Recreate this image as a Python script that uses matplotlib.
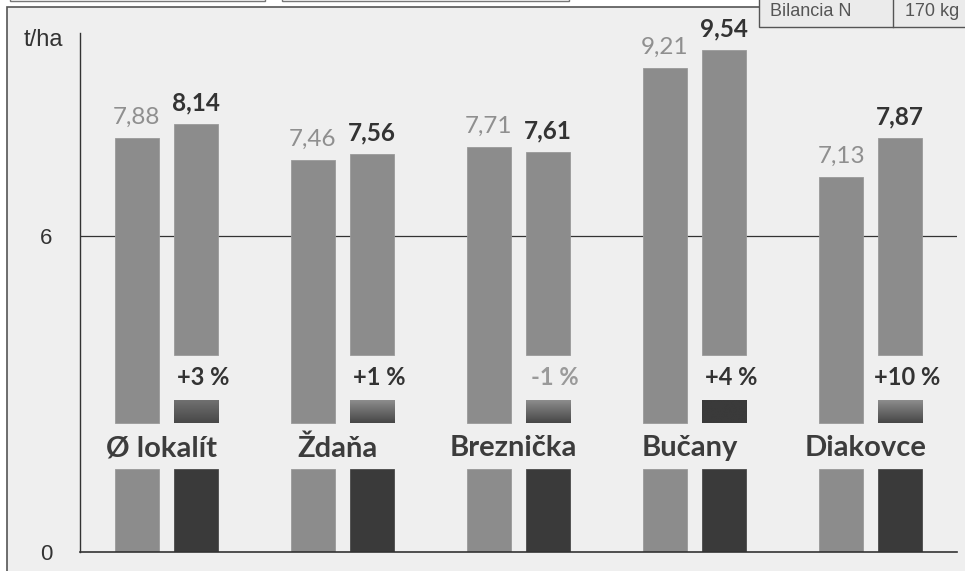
import matplotlib
matplotlib.use("Agg")
import matplotlib.pyplot as plt
import numpy as np
from matplotlib.colors import LinearSegmentedColormap
from matplotlib.patches import Rectangle

# údaje
categories = ["Ø lokalít", "Ždaňa", "Breznička", "Bučany", "Diakovce"]
base = [7.88, 7.46, 7.71, 9.21, 7.13]
treat = [8.14, 7.56, 7.61, 9.54, 7.87]
pct_labels = ["+3 %", "+1 %", "-1 %", "+4 %", "+10 %"]
pct_negative = [False, False, True, False, False]
chip_top = ["#707070", "#8c8c8c", "#8c8c8c", "#3a3a3a", "#8c8c8c"]
chip_bottom = ["#484848", "#474747", "#474747", "#3a3a3a", "#474747"]

# zóny rozdelenia stĺpcov (t/ha)
LOW_TOP = 1.57
MID_BOTTOM = 2.45
CHIP_TOP = 2.88
UPPER_BOTTOM = 3.75

W, H = 965, 571
GRAY = "#8c8c8c"
DARK = "#3a3a3a"
TXT = "#3c3c3c"
BG = "#efefef"
FONT = ["Lato", "DejaVu Sans"]
ARIAL = ["Liberation Sans", "DejaVu Sans"]

fig = plt.figure(figsize=(W / 100, H / 100), dpi=100, facecolor="white")

# rám pozadia
fig.patches.append(Rectangle((7 / W, -0.1), 1.2, (H - 7) / H + 0.1, transform=fig.transFigure,
                             facecolor=BG, edgecolor="#555555", lw=1.2, zorder=-2))
# horné boxy (odrezané)
for x0, x1 in [(10, 265), (282, 569)]:
    fig.patches.append(Rectangle((x0 / W, (H - 1) / H), (x1 - x0) / W, 0.1, transform=fig.transFigure,
                                 facecolor="white", edgecolor="#777777", lw=1.0, zorder=-1))
# tabuľka Bilancia N
fig.patches.append(Rectangle((759 / W, (H - 27) / H), 0.3, 0.2, transform=fig.transFigure,
                             facecolor="#ebebeb", edgecolor="#555555", lw=1.0, zorder=3))
fig.lines.append(plt.Line2D([893 / W, 893 / W], [(H - 27) / H, 1], transform=fig.transFigure,
                            color="#555555", lw=1.0, zorder=4))
fig.text(770 / W, (H - 11) / H, "Bilancia N", fontsize=13, color="#555555", va="center",
         family=ARIAL, zorder=5)
fig.text(905 / W, (H - 11) / H, "170 kg", fontsize=13, color="#555555", va="center",
         family=ARIAL, zorder=5)

ax = fig.add_axes([80 / W, (H - 552) / H, (957 - 80) / W, (552 - 33) / H])
ax.set_zorder(2)
ax.set_facecolor("none")

x = np.arange(len(categories))
bw = 0.25
off = 0.168

ax.axhline(6, color="#333333", lw=0.9, zorder=1)

x1 = x - off
x2 = x + off
b = np.array(base)
t = np.array(treat)
# prvá séria
ax.bar(x1, LOW_TOP, bw, color=GRAY, edgecolor="#9a9a9a", lw=0.6, zorder=2)
ax.bar(x1, b - MID_BOTTOM, bw, bottom=MID_BOTTOM, color=GRAY, edgecolor="#9a9a9a", lw=0.6, zorder=2)
# druhá séria
ax.bar(x2, LOW_TOP, bw, color=DARK, edgecolor="#4a4a4a", lw=0.6, zorder=2)
ax.bar(x2, t - UPPER_BOTTOM, bw, bottom=UPPER_BOTTOM, color=GRAY, edgecolor="#9a9a9a", lw=0.6, zorder=2)
for xi, c0, c1 in zip(x2, chip_top, chip_bottom):
    cmap = LinearSegmentedColormap.from_list("chip", [c1, c0])
    ax.imshow(np.linspace(0, 1, 50).reshape(-1, 1), cmap=cmap, origin="lower", aspect="auto",
              extent=(xi - bw / 2, xi + bw / 2, MID_BOTTOM, CHIP_TOP), zorder=2)
ax.set_xlim(-0.49, 4.49)
ax.set_ylim(0, 9.87)

for xi, v in zip(x1, base):
    ax.annotate(f"{v:.2f}".replace(".", ","), (xi, v), xytext=(0, 10), textcoords="offset points",
                ha="center", va="baseline", fontsize=17.5, color="#8f8f8f", family=FONT)
for xi, v in zip(x2, treat):
    ax.annotate(f"{v:.2f}".replace(".", ","), (xi, v), xytext=(0, 10), textcoords="offset points",
                ha="center", va="baseline", fontsize=17.5, color="#333333", weight="bold", family=FONT)
for xi, lab, neg in zip(x2, pct_labels, pct_negative):
    ax.text(xi + 0.04, (CHIP_TOP + UPPER_BOTTOM) / 2, lab, ha="center", va="center", fontsize=17,
            color="#9a9a9a" if neg else "#333333", weight="bold", family=FONT)
for xi, lab in zip(x, categories):
    ax.text(xi - 0.03, (LOW_TOP + MID_BOTTOM) / 2 - 0.04, lab, ha="center", va="center", fontsize=21,
            color=TXT, weight="bold", family=FONT)

ax.set_xticks([])
ax.set_yticks([0, 6])
ax.set_yticklabels(["0", "6"], family=ARIAL, fontsize=16, color="#333333")
ax.tick_params(axis="y", length=0, pad=20)
for s in ("top", "right"):
    ax.spines[s].set_visible(False)
for s in ("left", "bottom"):
    ax.spines[s].set_color("#333333")
ax.spines["left"].set_linewidth(1.0)
ax.spines["bottom"].set_linewidth(1.2)

fig.text(24 / W, (H - 40) / H, "t/ha", fontsize=17, color="#333333", va="center", family=ARIAL)

fig.savefig("out.png", dpi=100, facecolor="white")
